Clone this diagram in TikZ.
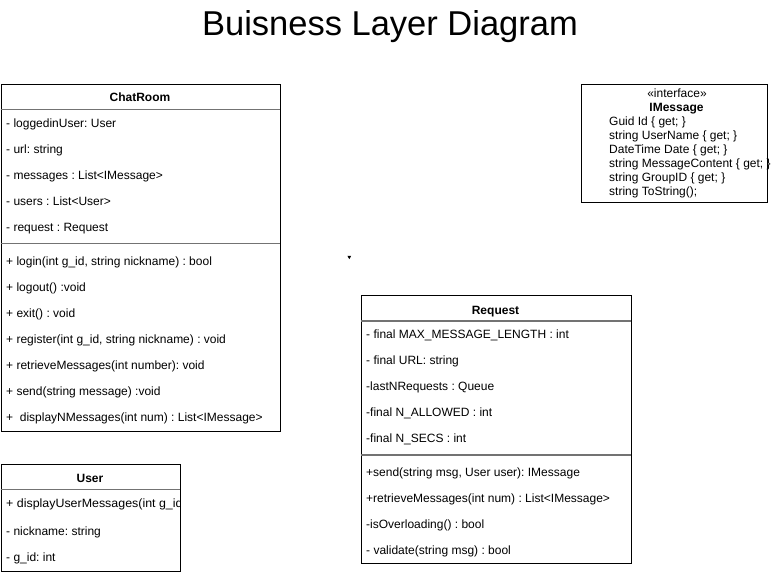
\documentclass[tikz,border=0pt]{standalone}
\usepackage{fontspec}
\setmainfont{Liberation Sans}
\frenchspacing
\begin{document}
\begin{tikzpicture}[x=1pt,y=-1pt,
  umlbox/.style={draw=black, line width=0.9pt, anchor=north west, inner sep=0pt, minimum width=#1},
  sepline/.style={draw=black!55, line width=1.3pt},
  txt/.style={anchor=base west, inner sep=0pt, font=\fontsize{12}{14}\selectfont},
  hdr/.style={anchor=base, inner sep=0pt, font=\fontsize{12}{14}\selectfont\bfseries},
  ctr/.style={anchor=base, inner sep=0pt, font=\fontsize{12}{14}\selectfont}]
\useasboundingbox (0,0) rectangle (771,573);
\fill[white] (0,0) rectangle (771,573);

% Title
\node[anchor=base, inner sep=0pt, font=\fontsize{34.5}{40}\selectfont] (title) at (390,35) {Buisness Layer Diagram};

% ChatRoom
\node[umlbox=279.5pt, minimum height=347pt] (chat) at (0.5,84) {};
\draw[sepline] (0.5,109.5) -- (280,109.5);
\draw[sepline] (0.5,243.5) -- (280,243.5);
\node[hdr] (chatH) at (140,101.5) {ChatRoom};
\node[txt] (c1) at (6,127) {- loggedinUser: User};
\node[txt] (c2) at (6,153) {- url: string};
\node[txt] (c3) at (6,179) {- messages : List<IMessage>};
\node[txt] (c4) at (6,205) {- users : List<User>};
\node[txt] (c5) at (6,231) {- request : Request};
\node[txt] (m1) at (6,265) {+ login(int g\_id, string nickname) : bool};
\node[txt] (m2) at (6,291) {+ logout() :void};
\node[txt] (m3) at (6,317) {+ exit() : void};
\node[txt] (m4) at (6,343) {+ register(int g\_id, string nickname) : void};
\node[txt] (m5) at (6,369) {+ retrieveMessages(int number): void};
\node[txt] (m6) at (6,395) {+ send(string message) :void};
\node[txt] (m7) at (6,421) {+ \ displayNMessages(int num) : List<IMessage>};

% User
\node[umlbox=179.5pt, minimum height=107pt] (user) at (0.5,464) {};
\draw[sepline] (0.5,489.5) -- (180,489.5);
\node[hdr] (userH) at (90,482.5) {User};
\begin{scope}
\clip (1,490) rectangle (179.5,570);
\node[txt, xscale=1.035] (u1) at (6,507) {+ displayUserMessages(int g\_id};
\end{scope}
\node[txt] (u2) at (6,535) {- nickname: string};
\node[txt] (u3) at (6,561) {- g\_id: int};

% Request
\node[umlbox=270pt, minimum height=268.5pt] (req) at (360.5,294.5) {};
\draw[sepline] (360.5,321) -- (630.5,321);
\draw[sepline] (360.5,455) -- (630.5,455);
\node[hdr] (reqH) at (495.5,314) {Request};
\node[txt] (r1) at (366,338.5) {- final MAX\_MESSAGE\_LENGTH : int};
\node[txt] (r2) at (366,364.5) {- final URL: string};
\node[txt] (r3) at (366,390.5) {-lastNRequests : Queue};
\node[txt] (r4) at (366,416.5) {-final N\_ALLOWED : int};
\node[txt] (r5) at (366,442.5) {-final N\_SECS : int};
\node[txt] (s1) at (366,476.5) {+send(string msg, User user): IMessage};
\node[txt] (s2) at (366,502.5) {+retrieveMessages(int num) : List<IMessage>};
\node[txt] (s3) at (366,528.5) {-isOverloading() : bool};
\node[txt] (s4) at (366,554.5) {- validate(string msg) : bool};

% IMessage
\node[umlbox=186pt, minimum height=118pt] (imsg) at (581,84) {};
\node[ctr] (i0) at (677,97) {«interface»};
\node[hdr] (i1) at (676.5,111) {IMessage};
\node[txt] (i2) at (609,125) {Guid Id \{ get; \}};
\node[txt] (i3) at (609,139) {string UserName \{ get; \}};
\node[txt] (i4) at (609,153) {DateTime Date \{ get; \}};
\node[txt] (i5) at (609,167) {string MessageContent \{ get; \}};
\node[txt] (i6) at (609,181) {string GroupID \{ get; \}};
\node[txt] (i7) at (609,195) {string ToString();};

% small arrow tip
\coordinate (tip) at (349.3,259.2);
\fill[black] (tip) -- ++(-1.9,-3.4) -- ++(3.8,0) -- cycle;
\end{tikzpicture}
\end{document}
